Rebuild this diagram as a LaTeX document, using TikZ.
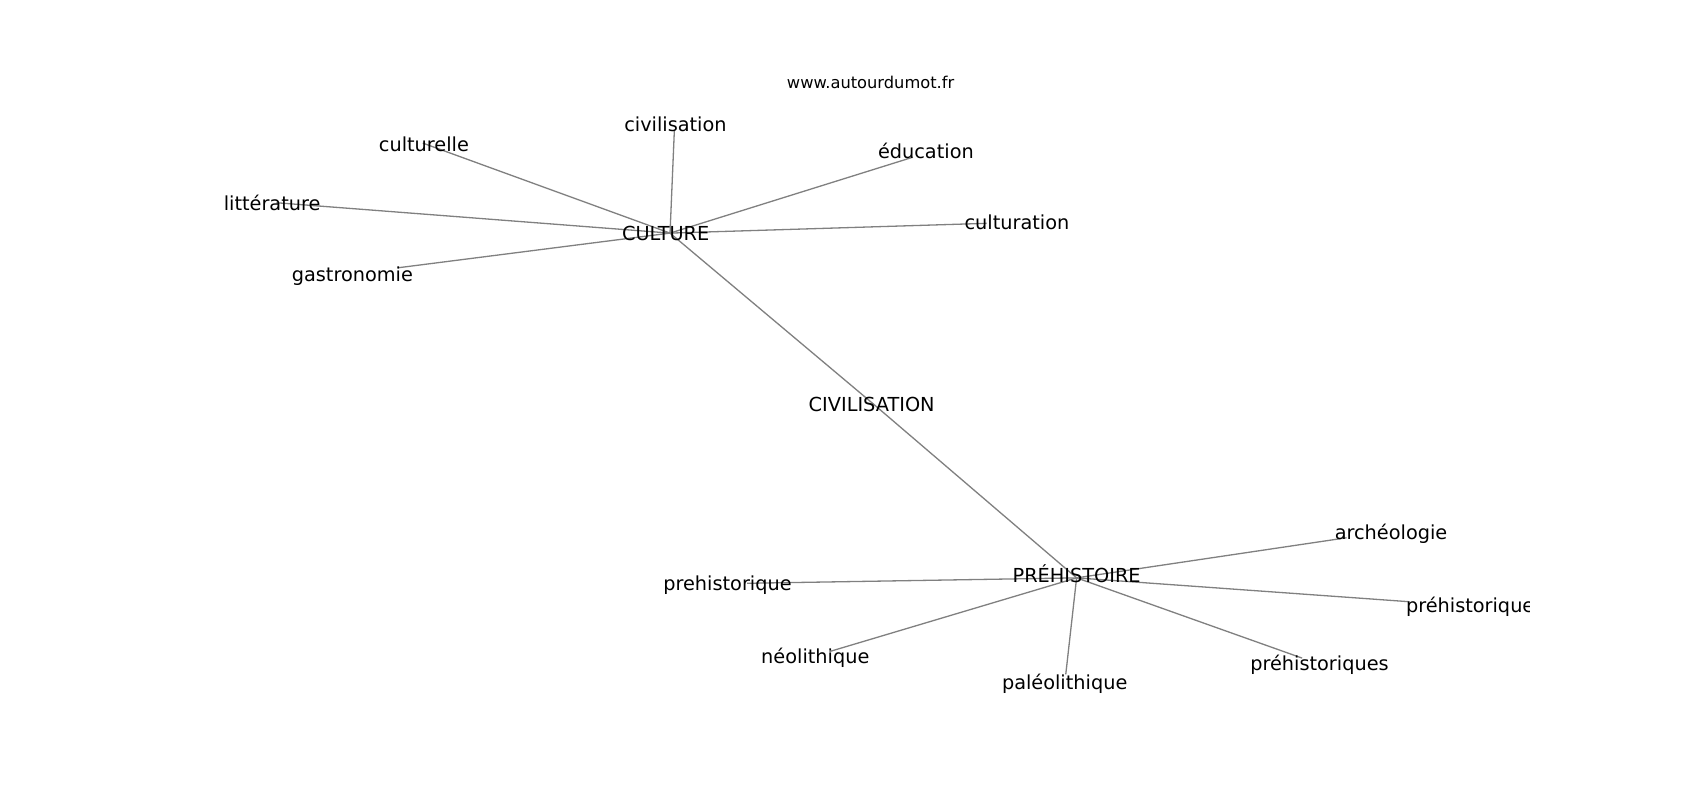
\documentclass[tikz,border=0pt]{standalone}
\usepackage{fontspec}
\setmainfont{DejaVu Sans}
\tikzset{
  mot/.style={inner sep=0pt, font=\fontsize{8.9}{10}\selectfont},
  lien/.style={gray, line width=.6pt}
}
\begin{document}
\begin{tikzpicture}[x=.5pt, y=-.5pt]
\useasboundingbox[fill=white] (0,0) rectangle (1568,738);
\node[font=\fontsize{7.5}{9}\selectfont, inner sep=0pt] (titre) at (803,76) {www.autourdumot.fr};
\begin{scope}
\clip (196,88) rectangle (1411,657);
\coordinate (C) at (618,215);
\coordinate (Civ) at (806,373);
\coordinate (P) at (993,533);
\draw[lien] (C)--(Civ)--(P);
% voisins de CULTURE
\foreach \n/\x/\y/\lx/\ly/\t in {cu1/390/132/391/133/culturelle, cu2/255/187/251/187/littérature,
  cu3/367/247/325/255/gastronomie, cu4/622/120/623/115/civilisation,
  cu5/842/145/854/139/éducation, cu6/910/206/938/205/culturation} {
  \coordinate (\n) at (\x,\y);
  \draw[lien] (C)--(\n);
  \node[mot] (\n-t) at (\lx,\ly) {\t};
}
% voisins de PRÉHISTOIRE
\foreach \n/\x/\y/\lx/\ly/\t in {pr1/1242/496/1283/492/archéologie, pr2/1300/555/1356/560/préhistorique,
  pr3/1201/607/1217/613/préhistoriques, pr4/983/622/982/631/paléolithique,
  pr5/765/601/752/607/néolithique, pr6/689/538/671/540/prehistorique} {
  \coordinate (\n) at (\x,\y);
  \draw[lien] (P)--(\n);
  \node[mot] (\n-t) at (\lx,\ly) {\t};
}
\node[mot] (C-t) at (614,215) {CULTURE};
\node[mot] (Civ-t) at (804,373) {CIVILISATION};
\node[mot] (P-t) at (993,529) {PRÉHISTOIRE};
\end{scope}
\end{tikzpicture}
\end{document}
